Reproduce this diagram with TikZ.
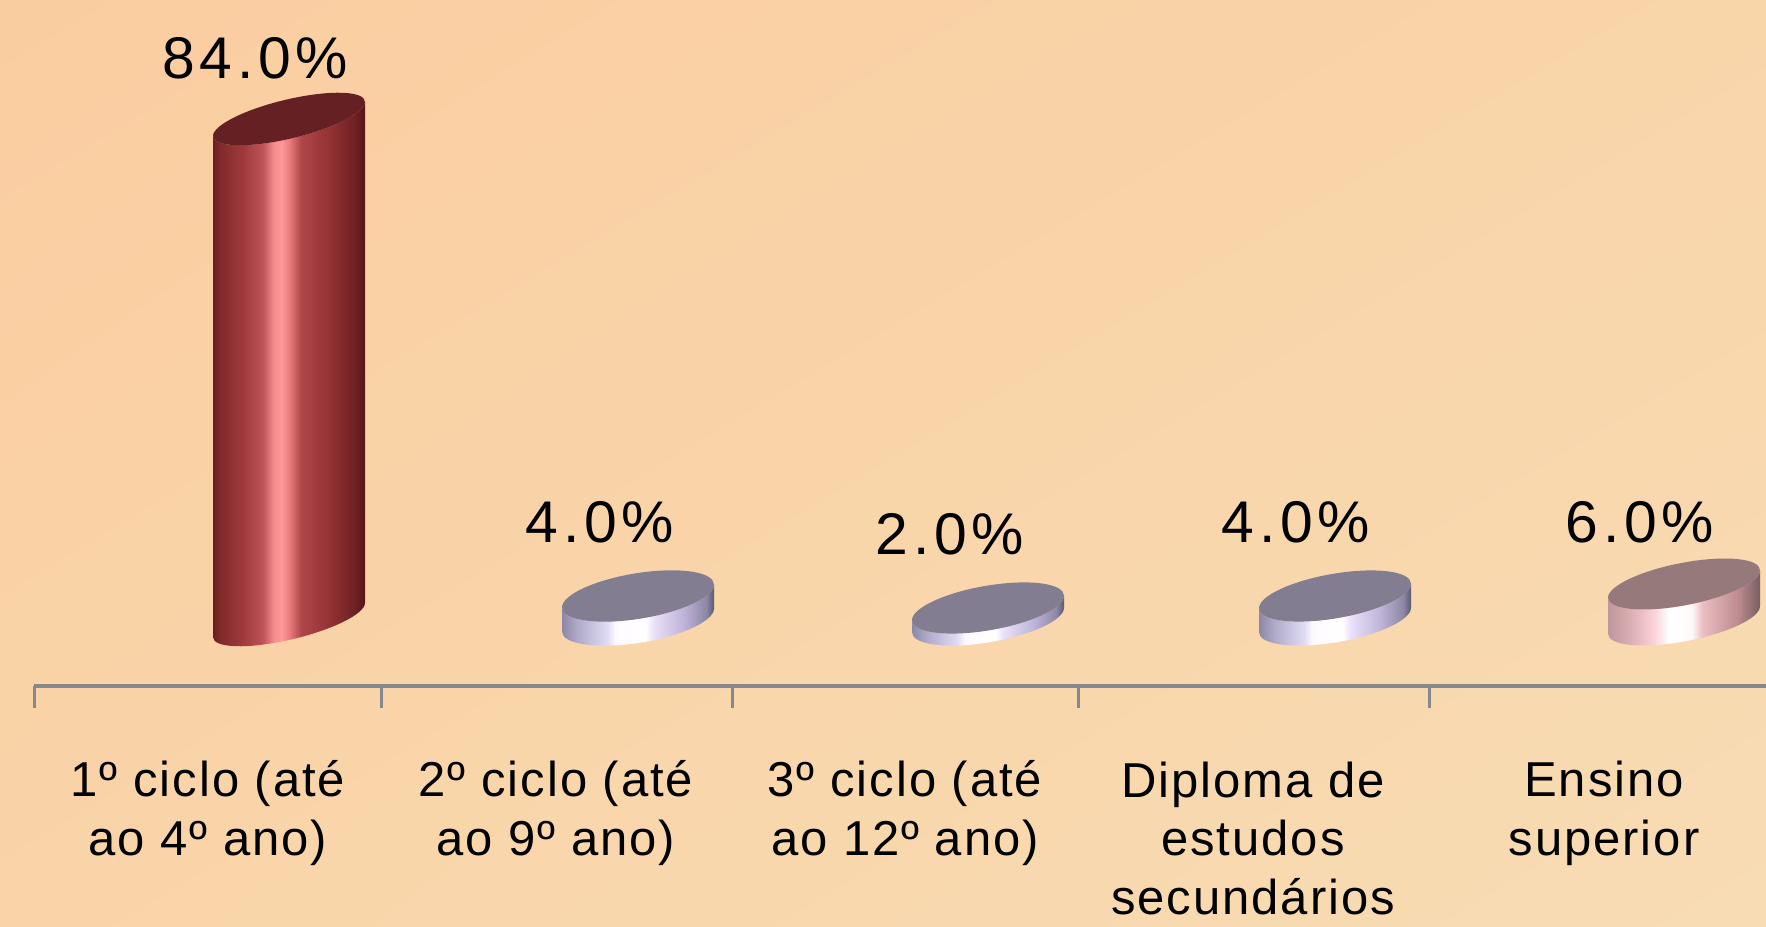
\documentclass[tikz,border=0pt]{standalone}
\usepackage{fontspec}
\usetikzlibrary{shadings}
\setmainfont{Liberation Sans}
\newfontfamily\pctfont[LetterSpace=8]{Liberation Sans}
\newfontfamily\labfont[LetterSpace=4]{Liberation Sans}
% background
\definecolor{bgUL}{RGB}{250,205,160}
\definecolor{bgUR}{RGB}{249,213,170}
\definecolor{bgLL}{RGB}{249,212,168}
\definecolor{bgLR}{RGB}{248,220,180}
\definecolor{axisgray}{RGB}{135,135,142}
% red cylinder
\definecolor{rs0}{RGB}{105,30,32}
\definecolor{rs1}{RGB}{130,42,44}
\definecolor{rs2}{RGB}{160,58,60}
\definecolor{rs3}{RGB}{190,85,88}
\definecolor{rs4}{RGB}{245,140,142}
\definecolor{rs5}{RGB}{255,152,152}
\definecolor{rs6}{RGB}{235,125,125}
\definecolor{rs7}{RGB}{175,70,72}
\definecolor{rs8}{RGB}{150,52,54}
\definecolor{rs9}{RGB}{115,34,36}
\definecolor{rs10}{RGB}{85,22,25}
\definecolor{redtop}{RGB}{101,32,35}
% gray discs
\definecolor{gs0}{RGB}{140,135,165}
\definecolor{gs1}{RGB}{175,170,200}
\definecolor{gs2}{RGB}{225,220,245}
\definecolor{gs3}{RGB}{255,250,255}
\definecolor{gs4}{RGB}{255,255,255}
\definecolor{gs5}{RGB}{235,225,250}
\definecolor{gs6}{RGB}{190,180,215}
\definecolor{gs7}{RGB}{140,135,165}
\definecolor{gs8}{RGB}{90,88,110}
\definecolor{graytop}{RGB}{130,125,145}
% pink disc
\definecolor{ps0}{RGB}{190,150,155}
\definecolor{ps1}{RGB}{220,175,180}
\definecolor{ps2}{RGB}{250,210,215}
\definecolor{ps3}{RGB}{255,255,255}
\definecolor{ps4}{RGB}{255,250,250}
\definecolor{ps5}{RGB}{235,190,195}
\definecolor{ps6}{RGB}{190,140,145}
\definecolor{ps7}{RGB}{120,95,98}
\definecolor{pinktop}{RGB}{150,121,123}
\pgfdeclarehorizontalshading{redside}{100bp}{color(0bp)=(rs0); color(25bp)=(rs0); color(27.5bp)=(rs1); color(35bp)=(rs2); color(41.5bp)=(rs3); color(45bp)=(rs4); color(47.5bp)=(rs5); color(50bp)=(rs6); color(54bp)=(rs7); color(62.5bp)=(rs8); color(71bp)=(rs9); color(75bp)=(rs10); color(100bp)=(rs10)}
\pgfdeclarehorizontalshading{grayside}{100bp}{color(0bp)=(gs0); color(25bp)=(gs0); color(30bp)=(gs1); color(40bp)=(gs2); color(42.5bp)=(gs3); color(52.5bp)=(gs4); color(55bp)=(gs5); color(65bp)=(gs6); color(72.5bp)=(gs7); color(75bp)=(gs8); color(100bp)=(gs8)}
\pgfdeclarehorizontalshading{pinkside}{100bp}{color(0bp)=(ps0); color(25bp)=(ps0); color(32.5bp)=(ps1); color(40bp)=(ps2); color(45bp)=(ps3); color(52.5bp)=(ps4); color(56bp)=(ps5); color(67.5bp)=(ps6); color(75bp)=(ps7); color(100bp)=(ps7)}
% bar: #1 name, #2 centre x, #3 height, #4 shear, #5 y radius, #6 side shading, #7 top colour
\newcommand\cylbar[7]{%
  \begin{scope}[cm={1,#4,0,1,(#2,306)}]
    \path[shading=#6] (-76,0) arc[start angle=180,end angle=360,x radius=76,y radius=#5]
      -- (76,#3) arc[start angle=0,end angle=-180,x radius=76,y radius=#5] -- cycle;
    \fill[#7] (0,#3) ellipse[x radius=76,y radius=#5];
    \coordinate (#1) at (0,#3);
  \end{scope}}
\tikzset{
  pct/.style={anchor=base,inner sep=0pt,font={\pctfont\fontsize{29.4}{34}\selectfont}},
  cat/.style={anchor=base,inner sep=0pt,align=center,font={\labfont\fontsize{24.5}{29.5}\selectfont}},
  axisline/.style={draw=axisgray,line width=2pt},
  tickline/.style={draw=axisgray,line width=1.5pt}
}
\begin{document}
\begin{tikzpicture}[x=0.5pt,y=0.5pt]
\shade[upper left=bgUL,upper right=bgUR,lower left=bgLL,lower right=bgLR] (0,0) rectangle (1766,926);
\useasboundingbox (0,0) rectangle (1766,926);
% bars
\cylbar{b1}{289}{501}{0.224}{20}{redside}{redtop}
\cylbar{b2}{638}{24}{0.15}{23}{grayside}{graytop}
\cylbar{b3}{988}{12}{0.16}{22.5}{grayside}{graytop}
\cylbar{b4}{1335}{24}{0.16}{22.5}{grayside}{graytop}
\cylbar{b5}{1684}{36}{0.18}{21.5}{pinkside}{pinktop}
% value labels
\node[pct] (p1) at (255,847) {84.0\%};
\node[pct] (p2) at (600,383) {4.0\%};
\node[pct] (p3) at (950,371) {2.0\%};
\node[pct] (p4) at (1296,383) {4.0\%};
\node[pct] (p5) at (1640,383) {6.0\%};
% axis
\coordinate (a0) at (34,240);
\coordinate (a1) at (1766,240);
\draw[axisline] (a0) -- (a1);
\foreach \i/\x in {1/34,2/381,3/732,4/1078,5/1429}{
  \coordinate (t\i) at (\x,240);
  \coordinate (u\i) at (\x,218);
  \draw[tickline] (t\i) -- (u\i);
}
% category labels (base = baseline of last line)
\node[cat] (c1) at (208,70) {1º ciclo (até\\ao 4º ano)};
\node[cat] (c2) at (556,70) {2º ciclo (até\\ao 9º ano)};
\node[cat] (c3) at (905,70) {3º ciclo (até\\ao 12º ano)};
\node[cat] (c4) at (1253,11) {Diploma de\\estudos\\secundários};
\node[cat] (c5) at (1604,70) {Ensino\\superior};
\end{tikzpicture}
\end{document}
